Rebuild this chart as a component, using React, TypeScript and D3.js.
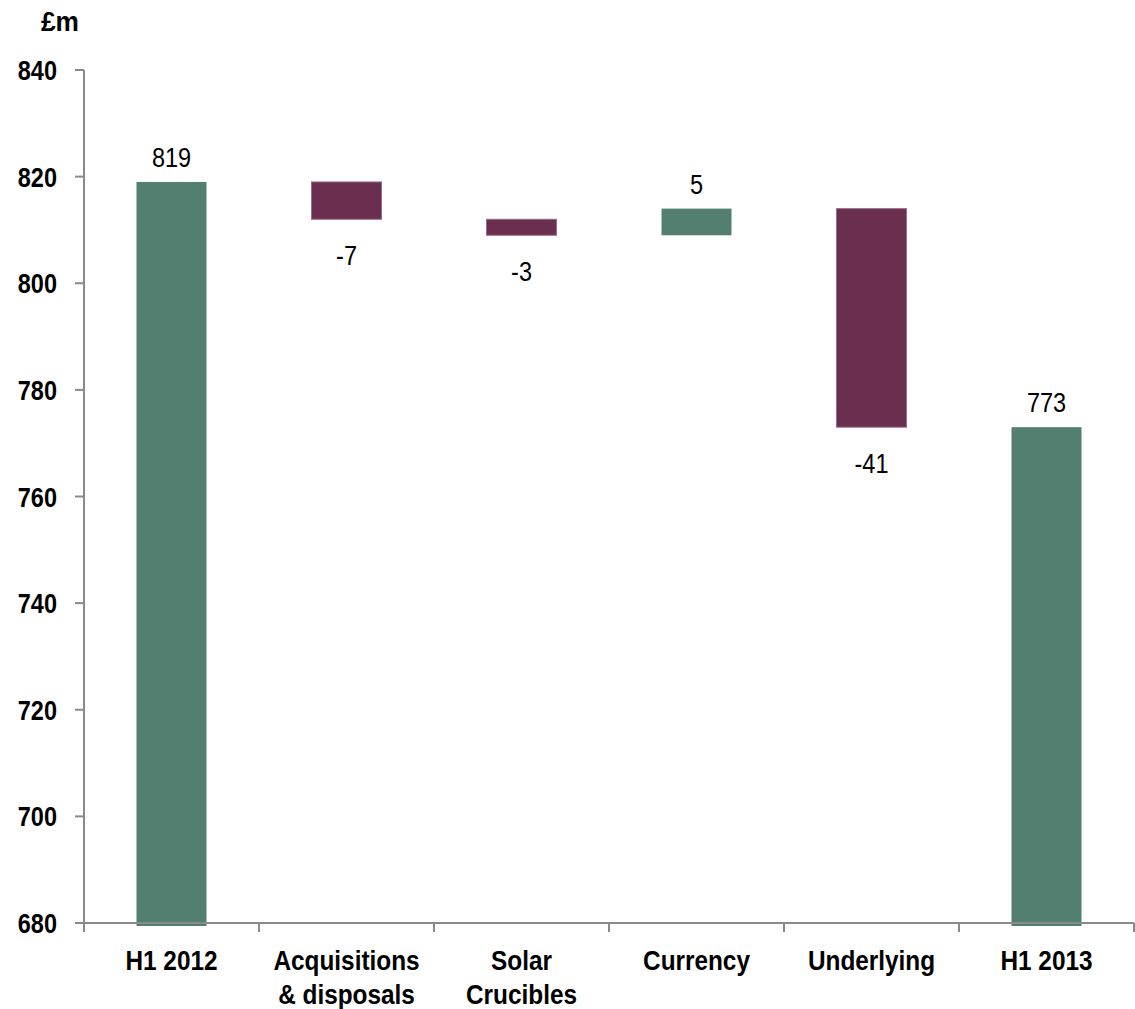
import React, { useEffect } from "react";
import * as d3 from "d3";

// Revenue bridge, £m
const categories = ["H1 2012", "Acquisitions\n& disposals", "Solar\nCrucibles", "Currency", "Underlying", "H1 2013"];
const amounts = [819, -7, -3, 5, -41, 773];
const kinds = ["total", "delta", "delta", "delta", "delta", "total"];
const yTicks = [680, 700, 720, 740, 760, 780, 800, 820, 840];
const unitLabel = "£m";

const WIDTH = 1135;
const HEIGHT = 1009;
const margin = { top: 70, right: 1, bottom: 86, left: 84 };

const GREEN = "#527F6F";
const MAROON = "#6A2F4E";
const MAROON_EDGE = "#9C6C87";
const AXIS = "#8A8A8A";
const FONT = "'Liberation Sans', Arial, sans-serif";
// condensed look: squeeze glyphs horizontally
const SQUEEZE = 0.84;

type Step = { name: string; amount: number; kind: string; low: number; high: number };

function buildSteps(): Step[] {
  let running = 0;
  return categories.map((name, i) => {
    const amount = amounts[i];
    const kind = kinds[i];
    if (kind === "total") {
      running = amount;
      return { name, amount, kind, low: NaN, high: amount };
    }
    const start = running;
    running = start + amount;
    return { name, amount, kind, low: Math.min(start, running), high: Math.max(start, running) };
  });
}

function Label(props: {
  x: number;
  y: number;
  anchor?: "start" | "middle" | "end";
  bold?: boolean;
  size?: number;
  squeeze?: number;
  lines: string[];
  lineHeight?: number;
}) {
  const { x, y, anchor = "middle", bold = false, size = 28, squeeze = SQUEEZE, lines, lineHeight = 34 } = props;
  return (
    <g transform={`translate(${x},${y}) scale(${squeeze},1)`}>
      <text textAnchor={anchor} fontSize={size} fontWeight={bold ? "bold" : "normal"} fill="#000">
        {lines.map((line, i) => (
          <tspan key={i} x={0} dy={i === 0 ? 0 : lineHeight}>
            {line}
          </tspan>
        ))}
      </text>
    </g>
  );
}

export default function App() {
  useEffect(() => {
    document.body.style.margin = "0";
  }, []);

  const steps = buildSteps();
  const innerBottom = HEIGHT - margin.bottom;
  const x = d3
    .scaleBand<string>()
    .domain(categories)
    .range([margin.left, WIDTH - margin.right])
    .paddingInner(0.6)
    .paddingOuter(0.3);
  const y = d3.scaleLinear().domain([680, 840]).range([innerBottom, margin.top]);
  const step = x.step();
  const bw = x.bandwidth();
  const overhang = 3;

  return (
    <svg width={WIDTH} height={HEIGHT} style={{ display: "block", background: "#fff" }} fontFamily={FONT}>
      {/* bars */}
      {steps.map((s) => {
        const x0 = x(s.name)!;
        if (s.kind === "total") {
          const top = y(s.high);
          return <rect key={s.name} x={x0} y={top} width={bw} height={innerBottom + overhang - top} fill={GREEN} />;
        }
        const top = y(s.high);
        const h = y(s.low) - top;
        const up = s.amount > 0;
        return (
          <rect
            key={s.name}
            x={x0}
            y={top}
            width={bw}
            height={h}
            fill={up ? GREEN : MAROON}
            stroke={up ? "none" : MAROON_EDGE}
            strokeWidth={1}
          />
        );
      })}

      {/* value labels */}
      {steps.map((s) => {
        const cx = x(s.name)! + bw / 2;
        const below = s.kind === "delta" && s.amount < 0;
        const ly = below ? y(s.low) + 46 : y(s.high) - 15;
        return <Label key={s.name} x={cx} y={ly} lines={[String(s.amount)]} />;
      })}

      {/* y axis */}
      <line x1={margin.left} x2={margin.left} y1={y(840)} y2={innerBottom} stroke={AXIS} strokeWidth={2} />
      {yTicks.map((t) => (
        <g key={t}>
          <line x1={margin.left - 9} x2={margin.left} y1={y(t)} y2={y(t)} stroke={AXIS} strokeWidth={2} />
          <Label x={57} y={y(t) + 10} anchor="end" bold lines={[String(t)]} />
        </g>
      ))}
      <Label x={60} y={31} bold squeeze={0.94} lines={[unitLabel]} />

      {/* x axis */}
      <line x1={margin.left} x2={WIDTH - margin.right} y1={innerBottom} y2={innerBottom} stroke={AXIS} strokeWidth={2} />
      {d3.range(categories.length + 1).map((i) => {
        const tx = margin.left + i * step;
        return <line key={i} x1={tx} x2={tx} y1={innerBottom} y2={innerBottom + 9} stroke={AXIS} strokeWidth={2} />;
      })}
      {categories.map((c) => (
        <Label key={c} x={x(c)! + bw / 2} y={innerBottom + 47} bold squeeze={0.87} lines={c.split("\n")} />
      ))}
    </svg>
  );
}
